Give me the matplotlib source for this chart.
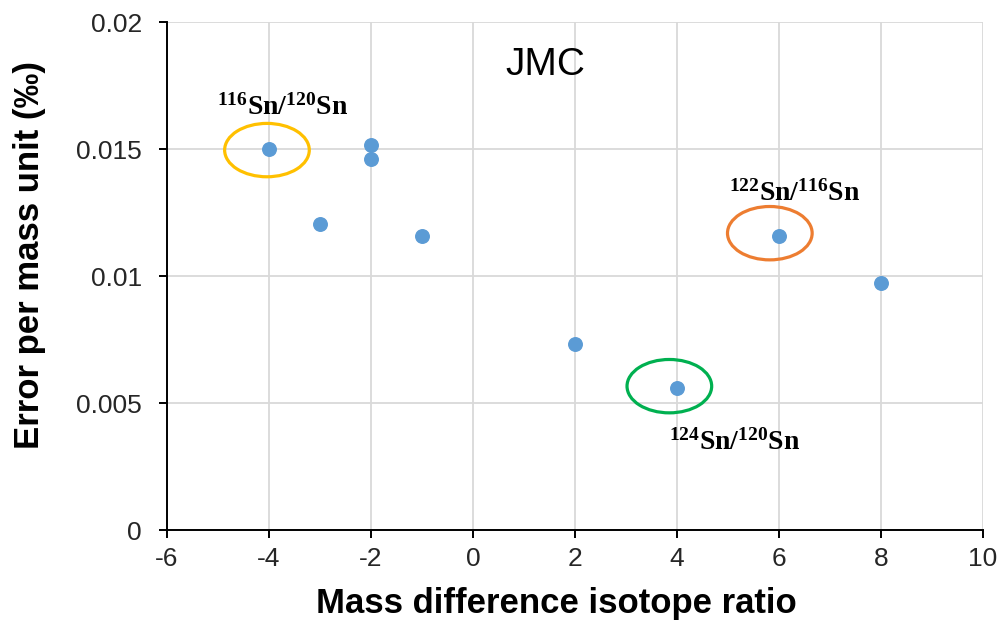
import numpy as np
import matplotlib.pyplot as plt
from matplotlib.patches import Ellipse

# error per mass unit vs mass difference, JMC Sn standard
mass_diff = [-4, -3, -2, -2, -1, 2, 4, 6, 8]
error_pmu = [0.0150, 0.01205, 0.01516, 0.01460, 0.01157, 0.00732, 0.00560, 0.01157, 0.00972]

# highlighted ratios: label, label position, ellipse centre, colour
ratio_labels = [r'$^{116}$Sn/$^{120}$Sn', r'$^{122}$Sn/$^{116}$Sn', r'$^{124}$Sn/$^{120}$Sn']
label_pos = [(-3.73, 0.01634), (6.31, 0.01299), (5.12, 0.00319)]
ellipse_xy = [(-4.04, 0.01496), (5.82, 0.01169), (3.85, 0.00567)]
ellipse_col = ['#FFC000', '#ED7D31', '#00B050']

xticks = np.arange(-6, 11, 2)
yticks = [0, 0.005, 0.01, 0.015, 0.02]
ytick_labels = ['0', '0.005', '0.01', '0.015', '0.02']

plt.rcParams['font.family'] = ['Liberation Sans', 'DejaVu Sans']
plt.rcParams['mathtext.default'] = 'regular'
plt.rcParams['axes.unicode_minus'] = False

fig = plt.figure(figsize=(10, 6.29), dpi=100)
ax = fig.add_axes([0.167, 0.157, 0.816, 0.808])

ax.scatter(mass_diff, error_pmu, s=95, color='#5B9BD5', zorder=3)

for (cx, cy), col in zip(ellipse_xy, ellipse_col):
    ax.add_patch(Ellipse((cx, cy), 1.66, 0.00210, fill=False, ec=col, lw=2.3, zorder=4))

for txt, (lx, ly) in zip(ratio_labels, label_pos):
    ax.text(lx, ly, txt, ha='center', va='baseline', fontsize=20,
            family='Liberation Serif', fontweight='bold')

ax.text(1.41, 0.0183, 'JMC', ha='center', va='center', fontsize=28)

ax.set_xlim(-6, 10)
ax.set_ylim(0, 0.02)
ax.set_xticks(xticks)
ax.set_yticks(yticks)
ax.set_yticklabels(ytick_labels)
ax.grid(True, color='#D9D9D9', lw=1.3, zorder=0)
ax.set_axisbelow(True)
for s in ['top', 'right']:
    ax.spines[s].set_visible(False)
for s in ['left', 'bottom']:
    ax.spines[s].set_linewidth(1.4)
ax.tick_params(labelsize=19, direction='out', length=6, width=1.4, colors='black',
               labelcolor='#262626')
ax.tick_params(axis='y', pad=12)
ax.tick_params(axis='x', pad=6)

ax.set_xlabel('Mass difference isotope ratio', fontsize=25, fontweight='bold')
ax.set_ylabel('Error per mass unit (‰)', fontsize=25, fontweight='bold')
ax.xaxis.set_label_coords(0.477, -0.112)
ax.yaxis.set_label_coords(-0.148, 0.541)

fig.savefig('out.png', dpi=100)
